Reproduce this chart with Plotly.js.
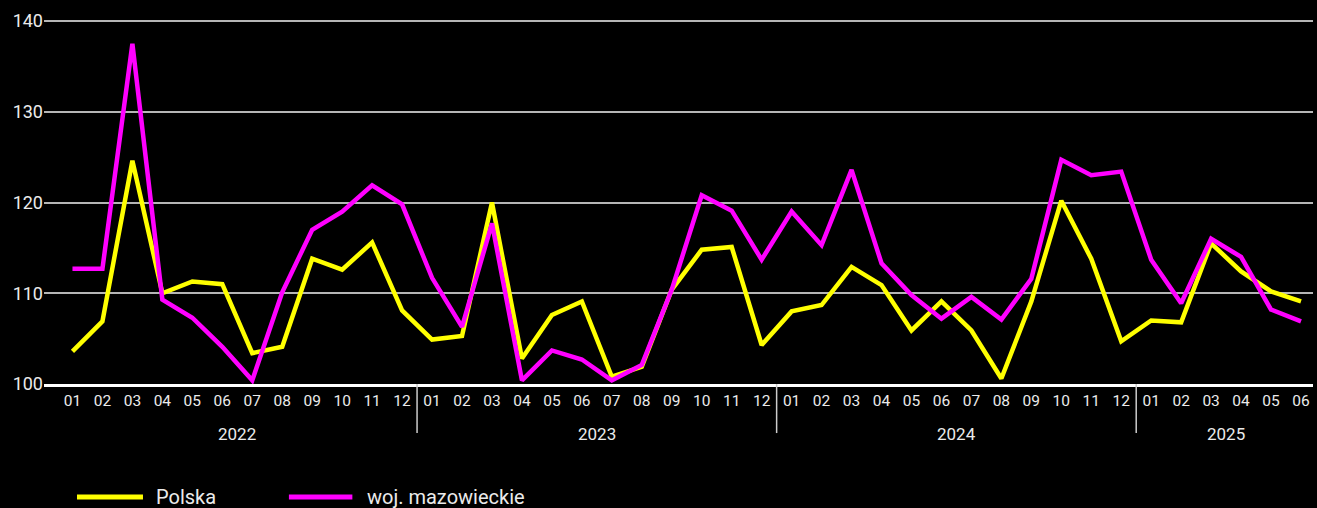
<!DOCTYPE html>
<html>
<head>
<meta charset="utf-8">
<script src="https://cdn.plot.ly/plotly-3.0.1.min.js"></script>
<style>html,body{margin:0;padding:0;background:#000;}#chart{width:1317px;height:508px;}</style>
</head>
<body>
<div id="chart"></div>
<script>
const months = ["01","02","03","04","05","06","07","08","09","10","11","12",
                "01","02","03","04","05","06","07","08","09","10","11","12",
                "01","02","03","04","05","06","07","08","09","10","11","12",
                "01","02","03","04","05","06"];
const years = ["2022","2023","2024","2025"];
const yearMonthCounts = [12,12,12,6];
const seriesNames = ["Polska","woj. mazowieckie"];
const polska = [103.6,106.9,124.6,110.0,111.3,111.0,103.4,104.1,113.8,112.6,115.6,108.1,
                104.9,105.3,120.0,102.8,107.6,109.1,100.8,101.9,110.4,114.8,115.1,104.3,
                108.0,108.7,112.9,110.9,105.9,109.1,105.9,100.6,109.1,120.2,113.8,104.7,
                107.0,106.8,115.5,112.4,110.2,109.1];
const mazowieckie = [112.7,112.7,137.5,109.3,107.3,104.1,100.4,110.1,117.0,119.0,121.9,119.8,
                111.7,106.3,117.7,100.4,103.7,102.7,100.4,102.1,110.4,120.8,119.1,113.7,
                119.0,115.3,123.6,113.3,109.8,107.2,109.6,107.1,111.6,124.7,123.0,123.4,
                113.7,108.9,116.0,114.0,108.2,106.9];
const yTicks = [100,110,120,130,140];
const colors = ["#ffff00","#ff00ff"];

const idx = months.map((m,i)=>i);
const font = "Roboto, 'Noto Sans', sans-serif";
const txt = "#ebebeb";

const traces = [
  {x: idx, y: polska, name: seriesNames[0], type: "scatter", mode: "lines",
   line: {color: colors[0], width: 4.5}, showlegend: false},
  {x: idx, y: mazowieckie, name: seriesNames[1], type: "scatter", mode: "lines",
   line: {color: colors[1], width: 4.5}, showlegend: false}
];

const shapes = [];
const annotations = [];
let start = 0;
years.forEach((yr, k) => {
  const n = yearMonthCounts[k];
  annotations.push({x: start + (n-1)/2, y: 0, xref: "x", yref: "paper", text: yr,
    showarrow: false, yanchor: "middle", yshift: -50, font: {family: font, size: 17, color: txt}});
  if (k > 0) {
    shapes.push({type: "line", xref: "x", yref: "paper", x0: start-0.5, x1: start-0.5,
      y0: 0, y1: -0.134, line: {color: "#cccccc", width: 1.5}});
  }
  start += n;
});

// custom legend
const legX = [[0.026,0.078,0.0867],[0.193,0.243,0.253]];
seriesNames.forEach((nm, i) => {
  shapes.push({type: "line", xref: "paper", yref: "paper", x0: legX[i][0], x1: legX[i][1],
    y0: -0.309, y1: -0.309, line: {color: colors[i], width: 5}});
  annotations.push({x: legX[i][2], y: -0.309, xref: "paper", yref: "paper", text: nm,
    showarrow: false, xanchor: "left", yanchor: "middle",
    font: {family: font, size: 20, color: txt}});
});

const layout = {
  width: 1317, height: 508,
  paper_bgcolor: "#000", plot_bgcolor: "#000",
  margin: {l: 44, r: 4, t: 18, b: 124},
  showlegend: false,
  xaxis: {range: [-0.95, 41.40], tickvals: idx, ticktext: months, showgrid: false,
    zeroline: false, showline: true, linecolor: "#ffffff", linewidth: 3, ticks: "",
    tickfont: {family: font, size: 15.5, color: txt}, fixedrange: true},
  yaxis: {range: [100, 140.33], tickvals: yTicks, showgrid: true, gridcolor: "#b5b5b5",
    gridwidth: 2, zeroline: false, showline: false, ticks: "",
    tickfont: {family: font, size: 18, color: txt}, fixedrange: true},
  shapes: shapes,
  annotations: annotations
};

Plotly.newPlot("chart", traces, layout, {displayModeBar: false, staticPlot: true});
</script>
</body>
</html>
